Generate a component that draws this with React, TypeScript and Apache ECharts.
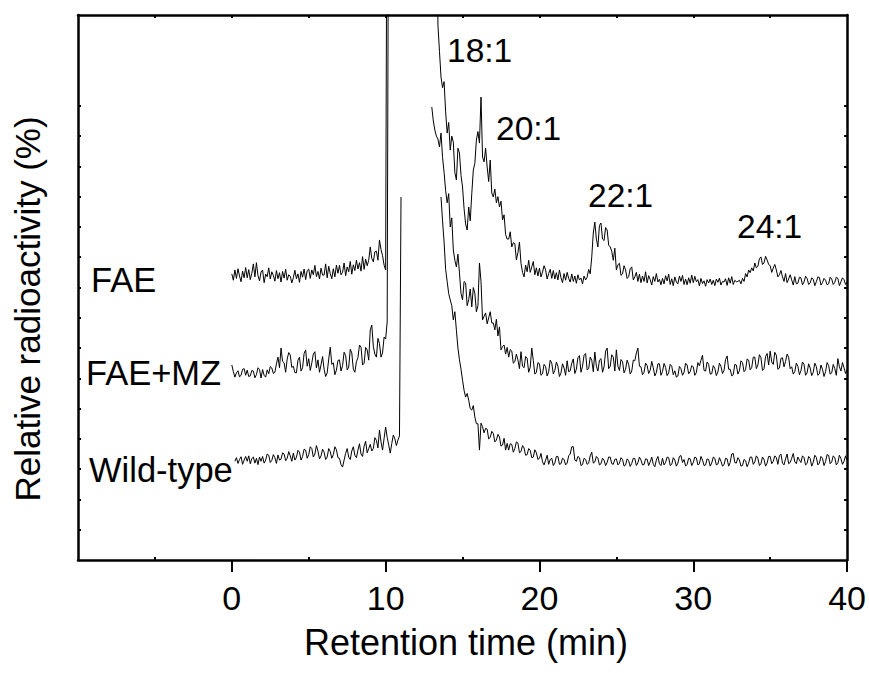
import React, { useEffect, useRef } from "react";
import * as echarts from "echarts";

// Sampling grid of the traces (min)
const TIME_START = 0;
const TIME_STEP = 0.1;

// Relative radioactivity, arbitrary units (0-180 axis). null = no data drawn.
const FAE: (number | null)[] = [
  94.5, 92.4, 95.8, 93.0, 96.2, 93.8, 91.9, 95.4, 93.2, 96.6,
  93.2, 95.9, 92.6, 94.7, 97.8, 93.5, 98.2, 94.0, 92.2, 95.1,
  95.8, 91.6, 94.4, 93.6, 96.5, 92.8, 95.2, 94.0, 92.1, 95.6,
  92.9, 94.9, 91.8, 95.3, 93.1, 96.0, 92.4, 94.2, 93.7, 91.5,
  93.2, 95.7, 92.9, 94.5, 91.7, 95.3, 93.4, 96.1, 92.6, 95.6,
  96.1, 93.0, 95.8, 94.2, 97.3, 93.6, 95.3, 92.8, 96.4, 94.1,
  94.1, 97.8, 93.2, 97.0, 94.6, 92.9, 96.2, 93.5, 97.4, 94.7,
  97.3, 94.2, 95.0, 98.1, 93.9, 96.8, 95.2, 98.6, 94.4, 97.5,
  95.6, 99.0, 96.1, 98.2, 95.4, 100.2, 96.0, 99.4, 97.2, 99.0,
  103.4, 99.6, 98.5, 101.8, 102.0, 99.0, 105.7, 102.5, 100.5, 97.4,
  95.8, 250, 250, 250, 250, 250, 250, 250, 250, 250,
  250, 250, 250, 250, 250, 250, 250, 250, 250, 250,
  250, 250, 250, 250, 250, 250, 250, 250, 250, 250,
  250, 250, 250, 250, 176.7, 168.0, 159.5, 156.0, 158.0, 148.0,
  141.0, 144.5, 135.4, 140.0, 138.0, 128.0, 125.5, 136.0, 134.4, 127.0,
  123.2, 116.0, 111.0, 109.0, 116.6, 112.0, 121.0, 128.8, 131.0, 138.7,
  141.5, 137.7, 152.9, 133.1, 131.5, 136.0, 129.8, 125.0, 132.1, 121.2,
  119.9, 122.5, 118.0, 120.0, 116.6, 118.5, 112.3, 114.0, 107.5, 106.0,
  106.0, 108.4, 103.4, 104.8, 104.5, 99.1, 101.5, 105.0, 98.0, 95.0,
  93.5, 97.4, 95.2, 99.0, 95.0, 96.8, 98.6, 94.2, 96.5, 93.8,
  96.4, 93.5, 95.1, 97.2, 95.8, 92.8, 94.6, 96.0, 93.0, 95.6,
  92.8, 94.9, 92.5, 95.8, 93.2, 91.6, 94.6, 92.4, 95.0, 93.0,
  91.8, 94.5, 92.0, 93.8, 91.4, 94.2, 92.5, 93.1, 91.2, 93.8,
  92.5, 93.4, 96.0, 94.5, 100.1, 108.0, 111.6, 106.0, 103.4, 110.5,
  111.3, 106.0, 105.5, 109.8, 109.0, 104.0, 103.4, 102.0, 99.0, 103.0,
  95.8, 97.5, 98.0, 94.0, 94.5, 97.2, 95.8, 93.0, 93.6, 96.2,
  96.8, 92.5, 93.5, 95.0, 92.0, 94.4, 91.6, 93.8, 92.0, 95.2,
  91.5, 93.9, 92.6, 90.8, 93.6, 92.0, 94.6, 91.8, 92.7, 90.9,
  93.0, 91.2, 93.9, 92.2, 94.4, 91.0, 92.9, 90.6, 93.5, 91.8,
  91.2, 93.8, 92.0, 94.0, 91.0, 92.8, 90.9, 93.2, 91.4, 94.1,
  91.6, 93.7, 91.9, 92.6, 90.5, 93.0, 91.3, 92.2, 90.4, 92.6,
  91.5, 92.8, 91.0, 92.4, 90.6, 92.8, 91.7, 93.1, 90.8, 92.0,
  91.8, 92.9, 90.7, 93.2, 91.4, 93.6, 91.0, 92.4, 91.9, 92.0,
  92.4, 91.2, 93.0, 92.0, 94.6, 93.5, 95.8, 94.9, 96.5, 95.5,
  98.1, 96.5, 97.0, 99.5, 100.1, 97.6, 98.1, 100.3, 99.1, 97.6,
  97.2, 95.0, 96.4, 97.6, 95.8, 93.5, 94.2, 95.6, 93.5, 92.0,
  94.6, 91.6, 92.8, 94.2, 92.5, 90.8, 93.6, 91.2, 91.4, 93.4,
  93.2, 90.9, 91.8, 93.7, 93.0, 91.0, 91.5, 93.2, 92.7, 90.6,
  91.9, 93.5, 93.3, 90.8, 91.6, 93.0, 92.4, 90.9, 91.2, 93.4,
  92.8, 91.0, 91.7, 93.4, 93.0, 90.6, 91.9, 93.2, 92.6, 91.0,
  91.8,
];

const FAE_MZ: (number | null)[] = [
  64.4, 62.2, 60.4, 61.8, 62.5, 60.5, 61.0, 63.0, 63.2, 61.0,
  62.7, 60.6, 60.8, 62.6, 62.4, 60.2, 61.2, 63.5, 62.9, 60.1,
  62.9, 61.0, 60.4, 62.8, 61.5, 63.9, 63.4, 61.6, 62.0, 64.8,
  67.0, 63.5, 70.0, 65.6, 65.1, 62.0, 66.4, 68.5, 67.7, 63.6,
  64.0, 61.9, 61.8, 66.0, 67.0, 62.4, 63.5, 68.2, 69.4, 64.0,
  66.5, 62.6, 65.1, 68.0, 68.8, 63.4, 66.1, 62.0, 64.5, 67.2,
  63.0, 60.6, 61.8, 66.4, 70.3, 64.6, 65.1, 61.2, 62.7, 65.9,
  66.1, 62.4, 64.2, 68.6, 67.5, 62.8, 63.7, 69.6, 68.4, 63.0,
  62.0, 65.5, 66.8, 71.0, 70.3, 64.4, 65.0, 70.2, 69.4, 66.0,
  76.0, 77.6, 70.5, 68.0, 67.0, 73.2, 71.5, 67.0, 68.4, 73.6,
  73.0, 78.6, 250, null, null, null, null, null, null, null,
  null, null, null, null, null, null, null, null, null, null,
  null, null, null, null, null, null, null, null, null, null,
  149.6, 145.0, 142.0, 140.0, 139.0, 136.4, 141.0, 133.0, 128.0, 122.0,
  118.0, 121.0, 110.0, 113.0, 102.4, 99.0, 96.8, 101.0, 94.8, 88.0,
  85.9, 92.0, 91.5, 84.0, 86.0, 89.5, 83.6, 90.0, 88.0, 82.0,
  84.0, 98.1, 92.0, 79.3, 80.5, 81.6, 78.0, 80.0, 82.0, 78.3,
  78.3, 76.0, 79.5, 74.0, 77.0, 69.4, 70.5, 71.0, 68.0, 70.2,
  67.0, 69.5, 69.0, 65.0, 65.5, 68.0, 66.1, 63.2, 68.8, 64.0,
  63.5, 67.2, 66.6, 62.0, 63.7, 70.0, 65.9, 61.4, 62.0, 65.2,
  64.8, 61.0, 61.5, 64.6, 63.9, 60.8, 62.2, 66.0, 65.0, 61.5,
  62.6, 65.4, 64.0, 60.6, 61.8, 64.8, 63.4, 61.0, 65.8, 62.2,
  62.5, 65.0, 66.4, 61.6, 63.0, 66.8, 67.5, 62.0, 64.0, 67.6,
  68.2, 62.8, 63.2, 67.0, 66.0, 62.2, 68.7, 64.0, 62.4, 66.0,
  66.5, 62.0, 63.8, 69.0, 70.0, 63.2, 64.0, 67.8, 67.0, 62.4,
  69.4, 64.0, 62.6, 66.2, 65.5, 61.8, 63.0, 66.0, 64.6, 61.4,
  62.4, 66.0, 65.8, 68.4, 70.0, 64.0, 63.8, 61.2, 62.0, 65.0,
  64.2, 61.6, 62.7, 65.6, 63.5, 60.8, 61.9, 64.8, 64.8, 61.0,
  62.3, 64.9, 63.6, 60.9, 61.8, 64.6, 64.0, 61.2, 62.5, 60.4,
  60.8, 63.9, 63.2, 61.0, 62.0, 65.0, 64.4, 61.5, 62.2, 64.2,
  63.8, 61.0, 61.9, 65.2, 64.1, 66.0, 67.6, 62.6, 62.4, 65.4,
  64.6, 61.4, 61.5, 64.2, 63.3, 60.9, 62.1, 65.0, 64.0, 61.6,
  62.6, 66.2, 67.4, 63.0, 63.0, 60.8, 61.2, 64.6, 64.4, 61.4,
  62.5, 65.8, 65.2, 62.2, 62.8, 66.4, 66.0, 62.8, 63.6, 67.0,
  67.0, 63.2, 64.4, 67.8, 66.8, 62.6, 63.2, 67.2, 68.2, 64.4,
  69.0, 65.4, 64.6, 68.6, 67.6, 63.0, 63.4, 66.6, 66.8, 63.8,
  65.6, 68.0, 67.0, 63.2, 63.8, 61.4, 62.2, 65.0, 64.0, 61.2,
  62.5, 65.4, 64.6, 61.0, 61.8, 64.8, 63.4, 60.9, 62.0, 65.0,
  63.9, 61.0, 61.5, 64.4, 63.0, 60.6, 62.2, 65.2, 64.2, 61.4,
  61.8, 64.6, 63.2, 61.0, 66.5, 63.8, 62.4, 65.2, 63.5, 61.6,
  62.8,
];

const WILD_TYPE: (number | null)[] = [
  null, null, 32.6, 33.8, 31.9, 33.2, 34.1, 31.6, 33.0, 34.2,
  32.6, 34.4, 31.8, 33.5, 34.0, 32.0, 33.6, 31.5, 34.0, 32.6,
  34.2, 32.0, 33.0, 35.0, 34.6, 32.2, 32.9, 34.8, 33.8, 31.9,
  34.7, 33.0, 33.3, 35.4, 35.0, 32.8, 33.6, 35.8, 34.4, 32.6,
  35.3, 33.0, 33.9, 36.2, 35.6, 33.0, 34.2, 36.6, 36.3, 33.6,
  34.8, 37.4, 36.8, 34.0, 35.0, 37.8, 36.0, 33.4, 34.4, 36.6,
  35.6, 33.2, 34.0, 36.8, 35.8, 33.6, 34.8, 37.4, 36.4, 33.8,
  33.6, 31.5, 30.7, 33.0, 35.2, 36.8, 34.0, 33.2, 36.0, 37.4,
  34.6, 33.8, 36.3, 38.4, 35.0, 34.2, 37.6, 39.2, 35.4, 36.8,
  38.2, 36.0, 36.8, 40.4, 39.5, 37.0, 42.9, 39.0, 36.3, 40.2,
  43.9, 40.5, 38.0, 35.3, 38.5, 41.3, 40.0, 37.8, 39.6, 41.0,
  119.9, null, null, null, null, null, null, null, null, null,
  null, null, null, null, null, null, null, null, null, null,
  null, null, null, null, null, null, 119.9, 112.0, 105.0, 96.0,
  92.0, 88.0, 85.9, 84.0, 79.3, 82.0, 75.9, 70.0, 66.1, 63.0,
  59.4, 56.0, 53.8, 55.0, 52.8, 50.0, 49.5, 51.0, 47.2, 45.0,
  45.0, 36.3, 45.2, 44.0, 42.0, 43.5, 43.2, 40.0, 40.5, 42.5,
  41.8, 39.0, 39.6, 41.5, 40.6, 37.6, 38.0, 40.2, 36.3, 38.5,
  36.3, 38.4, 38.2, 35.6, 36.8, 39.0, 38.6, 35.4, 35.8, 37.8,
  37.0, 34.6, 34.8, 36.8, 36.2, 33.8, 34.0, 36.4, 35.4, 33.2,
  33.6, 35.2, 32.4, 31.4, 33.0, 34.6, 31.6, 33.2, 33.6, 31.2,
  32.0, 34.2, 34.2, 31.6, 31.8, 33.6, 33.2, 31.4, 32.0, 34.4,
  35.0, 37.4, 37.4, 33.0, 32.6, 34.2, 33.8, 31.2, 31.5, 33.6,
  33.2, 31.6, 32.0, 34.4, 35.6, 32.0, 32.4, 34.2, 33.6, 31.4,
  31.8, 33.6, 33.0, 31.2, 32.2, 34.0, 34.0, 31.8, 31.6, 33.2,
  33.4, 31.4, 32.0, 33.8, 33.2, 31.0, 31.4, 33.4, 32.8, 30.9,
  31.9, 33.6, 33.5, 31.2, 32.1, 34.0, 33.0, 31.4, 31.5, 33.4,
  33.3, 31.2, 32.4, 34.0, 31.6, 30.8, 33.0, 34.2, 31.8, 31.2,
  33.6, 31.4, 32.2, 34.0, 33.8, 31.2, 31.6, 33.8, 33.0, 31.0,
  32.0, 34.2, 34.5, 32.2, 33.2, 31.0, 31.6, 33.6, 33.4, 31.2,
  32.2, 34.0, 33.7, 31.4, 31.8, 34.2, 33.0, 31.2, 31.4, 33.4,
  33.2, 31.0, 32.0, 34.0, 33.6, 31.4, 31.7, 33.8, 32.6, 31.0,
  31.5, 33.6, 33.4, 31.0, 32.2, 35.0, 35.2, 32.2, 32.0, 33.8,
  33.0, 31.0, 31.2, 33.2, 32.8, 30.8, 32.0, 34.0, 34.0, 31.6,
  32.4, 34.4, 33.6, 31.2, 31.8, 34.0, 33.2, 31.0, 32.0, 34.2,
  34.2, 31.8, 32.6, 34.4, 33.8, 31.6, 34.5, 35.0, 32.0, 31.4,
  33.4, 35.0, 31.8, 32.2, 33.6, 35.2, 32.4, 31.8, 34.0, 33.0,
  32.2, 34.4, 33.8, 31.4, 31.9, 34.2, 33.5, 31.0, 32.3, 34.6,
  33.9, 31.4, 32.0, 34.2, 33.6, 31.2, 32.5, 34.8, 34.6, 31.8,
  32.4, 34.4, 33.8, 31.4, 32.2, 34.6, 33.5, 31.6, 32.6, 34.4,
  32.8,
];

// Axis ticks / labels
const X_LABELS = [0, 10, 20, 30, 40];
const X_MINOR_TICKS = [-5, 5, 15, 25, 35];
const X_TOP_TICKS = [-5, 0, 5, 10, 15, 20, 25, 30, 35];
const Y_TICKS = [10, 20, 30, 40, 50, 60, 70, 80, 90, 100, 110, 120, 130, 140, 150];

// Annotations
const TRACE_LABELS = ["FAE", "FAE+MZ", "Wild-type"];
const PEAK_LABELS = ["18:1", "20:1", "22:1", "24:1"];
const X_TITLE = "Retention time (min)";
const Y_TITLE = "Relative radioactivity (%)";

const FONT = "'Liberation Sans', Arial, Helvetica, sans-serif";

function toPoints(values: (number | null)[]) {
  return values.map((v, i) => [
    +(TIME_START + i * TIME_STEP).toFixed(2),
    v === null ? "-" : v,
  ]);
}

export default function App() {
  const ref = useRef<HTMLDivElement>(null);

  useEffect(() => {
    if (!ref.current) return;
    const chart = echarts.init(ref.current, undefined, { renderer: "svg" });

    const axisLine = { show: true, onZero: false, lineStyle: { color: "#000", width: 2.5 } };
    const smallTick = { show: true, inside: true, length: 3, lineStyle: { color: "#000", width: 2 } };
    const lineSeries = (name: string, values: (number | null)[]) => ({
      name,
      type: "line",
      data: toPoints(values),
      showSymbol: false,
      symbol: "none",
      clip: true,
      connectNulls: false,
      lineStyle: { color: "#000", width: 1 },
      xAxisIndex: 0,
      yAxisIndex: 0,
      silent: true,
    });

    const textStyle = (text: string, size: number) => ({
      text,
      fill: "#000",
      fontSize: size,
      fontFamily: FONT,
    });

    const labelPos: [number, number][] = [
      [91, 280],
      [86, 373],
      [89, 470],
    ];
    const peakPos: [number, number][] = [
      [447, 50],
      [496, 128],
      [588, 195],
      [737, 226],
    ];

    chart.setOption({
      animation: false,
      backgroundColor: "#fff",
      grid: { left: 78, right: 20, top: 15, bottom: 113, containLabel: false },
      xAxis: [
        {
          type: "value",
          position: "bottom",
          min: -10,
          max: 40,
          interval: 10,
          axisLine,
          axisTick: {
            show: true,
            inside: false,
            length: 12,
            customValues: X_LABELS,
            lineStyle: { color: "#000", width: 2 },
          },
          axisLabel: {
            customValues: X_LABELS,
            color: "#000",
            fontSize: 34,
            fontFamily: FONT,
            margin: 21,
          },
          splitLine: { show: false },
        },
        {
          type: "value",
          position: "bottom",
          min: -10,
          max: 40,
          interval: 5,
          axisLine: { show: false },
          axisTick: { ...smallTick, customValues: X_MINOR_TICKS },
          axisLabel: { show: false },
          splitLine: { show: false },
        },
        {
          type: "value",
          position: "top",
          min: -10,
          max: 40,
          interval: 5,
          axisLine,
          axisTick: { ...smallTick, customValues: X_TOP_TICKS },
          axisLabel: { show: false },
          splitLine: { show: false },
        },
      ],
      yAxis: [
        {
          type: "value",
          position: "left",
          min: 0,
          max: 180,
          interval: 10,
          axisLine,
          axisTick: { ...smallTick, customValues: Y_TICKS },
          axisLabel: { show: false },
          splitLine: { show: false },
        },
        {
          type: "value",
          position: "right",
          min: 0,
          max: 180,
          interval: 10,
          axisLine,
          axisTick: { ...smallTick, customValues: Y_TICKS },
          axisLabel: { show: false },
          splitLine: { show: false },
        },
      ],
      series: [
        lineSeries(TRACE_LABELS[0], FAE),
        lineSeries(TRACE_LABELS[1], FAE_MZ),
        lineSeries(TRACE_LABELS[2], WILD_TYPE),
      ],
      graphic: [
        ...TRACE_LABELS.map((t, i) => ({
          type: "text",
          x: labelPos[i][0],
          y: labelPos[i][1],
          style: { ...textStyle(t, 34.5), textAlign: "left", textVerticalAlign: "middle" },
          z: 10,
        })),
        ...PEAK_LABELS.map((t, i) => ({
          type: "text",
          x: peakPos[i][0],
          y: peakPos[i][1],
          style: { ...textStyle(t, 33.5), textAlign: "left", textVerticalAlign: "middle" },
          z: 10,
        })),
        {
          type: "text",
          x: 466,
          y: 642,
          style: { ...textStyle(X_TITLE, 36), textAlign: "center", textVerticalAlign: "middle" },
        },
        {
          type: "text",
          x: 27,
          y: 309,
          rotation: Math.PI / 2,
          style: { ...textStyle(Y_TITLE, 35), textAlign: "center", textVerticalAlign: "middle" },
        },
      ],
    });

    return () => chart.dispose();
  }, []);

  return (
    <div
      ref={ref}
      style={{ position: "fixed", left: 0, top: 0, width: 869, height: 673, background: "#fff" }}
    />
  );
}
